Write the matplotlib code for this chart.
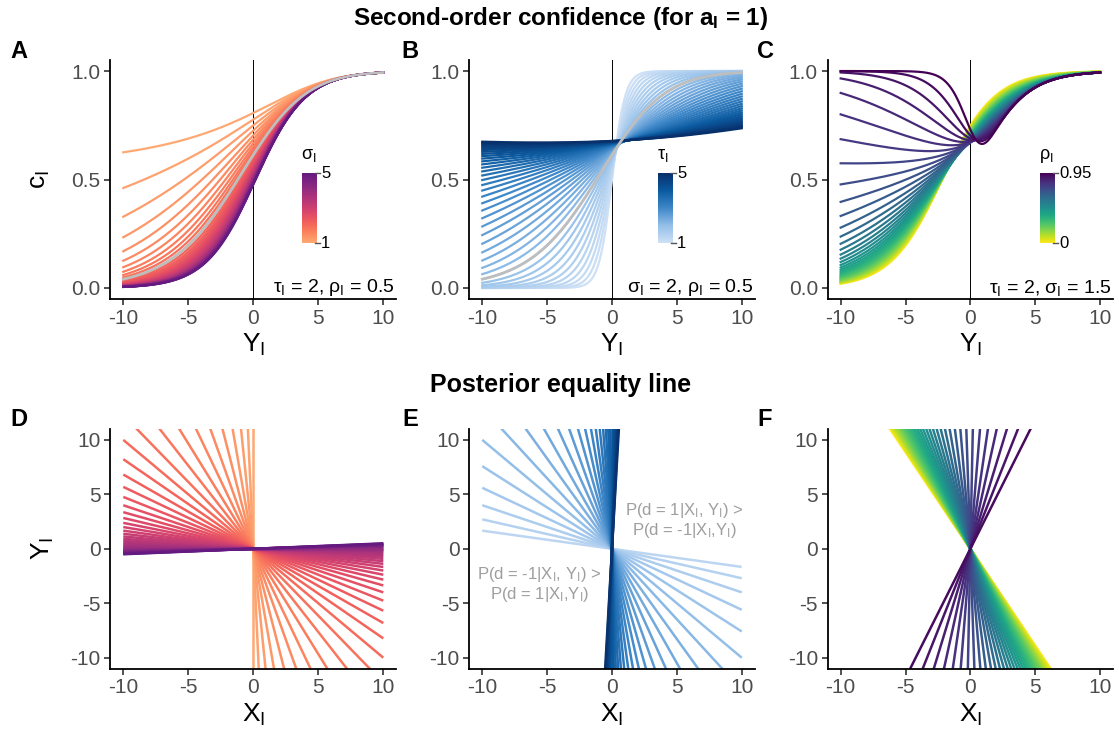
import math
import numpy as np
import matplotlib
matplotlib.use("Agg")
import matplotlib.pyplot as plt
from matplotlib.colors import LinearSegmentedColormap

plt.rcParams['font.family'] = ['Liberation Sans', 'DejaVu Sans']
plt.rcParams['mathtext.fontset'] = 'custom'
plt.rcParams['mathtext.rm'] = 'Liberation Sans'
plt.rcParams['mathtext.it'] = 'Liberation Sans'
plt.rcParams['mathtext.bf'] = 'Liberation Sans:bold'

sigma_vals = [1.0, 1.1, 1.2, 1.3, 1.4, 1.5, 1.6, 1.7, 1.8, 1.9, 2.0, 2.1, 2.2, 2.3,
              2.4, 2.5, 2.6, 2.7, 2.8, 2.9, 3.0, 3.1, 3.2, 3.3, 3.4, 3.5, 3.6, 3.7,
              3.8, 3.9, 4.0, 4.1, 4.2, 4.3, 4.4, 4.5, 4.6, 4.7, 4.8, 4.9, 5.0]
tau_vals = list(sigma_vals)
tau_vals_e = [1.333, 1.467, 1.6, 1.733, 1.867, 2.0, 2.133, 2.267, 2.4, 2.533, 2.667,
              2.8, 2.933, 3.067, 3.2, 3.333, 3.467, 3.6, 3.733, 3.867, 4.0, 4.133,
              4.267, 4.4, 4.533, 4.667, 4.8, 4.933]
rho_vals = [0.0, 0.027, 0.054, 0.081, 0.109, 0.136, 0.163, 0.19, 0.217, 0.244, 0.271,
            0.299, 0.326, 0.353, 0.38, 0.407, 0.434, 0.461, 0.489, 0.516, 0.543, 0.57,
            0.597, 0.624, 0.651, 0.679, 0.706, 0.733, 0.76, 0.787, 0.814, 0.841, 0.869,
            0.896, 0.923, 0.95]
rho_vals_f = rho_vals[:-1]

tau_a, rho_a = 2.0, 0.5
sigma_b, rho_b = 2.0, 0.5
tau_c, sigma_c = 2.0, 1.5
ref_sigma, ref_tau, ref_rho = 2.0, 2.0, 0.5

y_grid = np.linspace(-10, 10, 401)
x_ends = np.array([-10.0, 10.0])

W, H = 1119, 738
_erfc = np.vectorize(math.erfc)


def phi_cdf(z):
    return 0.5 * _erfc(-z / math.sqrt(2))


def confidence(y, sigma, tau, rho):
    k = rho * sigma / tau
    s = sigma * math.sqrt(1 - rho ** 2)
    pa = np.exp(-(y - 1) ** 2 / (2 * tau ** 2)) * phi_cdf((1 + k * (y - 1)) / s)
    pb = np.exp(-(y + 1) ** 2 / (2 * tau ** 2)) * phi_cdf((-1 + k * (y + 1)) / s)
    return pa / (pa + pb)


def equality_line(ax, sigma, tau, rho, color):
    a = tau ** 2 - rho * sigma * tau
    b = sigma ** 2 - rho * sigma * tau
    if abs(b) < 1e-9:
        ax.plot([0, 0], [-12, 12], color=color, lw=1.8, solid_capstyle='butt')
    else:
        ax.plot(x_ends, -a / b * x_ends, color=color, lw=1.8, solid_capstyle='butt')


def fig_rect(x0, y0, x1, y1):
    return [x0 / W, 1 - y1 / H, (x1 - x0) / W, (y1 - y0) / H]


def style_axes(ax):
    for s in ['top', 'right']:
        ax.spines[s].set_visible(False)
    for s in ['left', 'bottom']:
        ax.spines[s].set_linewidth(1.3)
    ax.tick_params(length=4, width=1.2, colors='#333333', labelcolor='#4d4d4d',
                   labelsize=15, pad=3)


def colorbar(fig, cmap, x0, y0, x1, y1, title, top, bottom):
    cax = fig.add_axes(fig_rect(x0, y0, x1, y1))
    grad = np.linspace(1, 0, 256).reshape(-1, 1)
    cax.imshow(grad, aspect='auto', cmap=cmap, vmin=0, vmax=1)
    cax.axis('off')
    fig.text((x0 - 1) / W, 1 - (y0 - 17) / H, title, fontsize=13, ha='left', va='center')
    fig.text((x1 + 4) / W, 1 - y0 / H, top, fontsize=12, ha='left', va='center')
    fig.text((x1 + 4) / W, 1 - y1 / H, bottom, fontsize=12, ha='left', va='center')
    for yy in (y0, y1):
        fig.add_artist(plt.Line2D([(x1 - 2) / W, (x1 + 3) / W], [1 - yy / H, 1 - yy / H],
                                  color='#555555', lw=1.0))


cmap_a = LinearSegmentedColormap.from_list('mag', plt.cm.magma(np.linspace(0.82, 0.3, 256)))
cmap_b = LinearSegmentedColormap.from_list('blu', ['#cfe1f6', '#94bfe9', '#3f88c9', '#0b5aa0', '#08306b'])
cmap_c = plt.cm.viridis_r

fig = plt.figure(figsize=(W / 100, H / 100), dpi=100)

cols = [(110.3, 396.3), (469.3, 754.7), (827.7, 1113.0)]
row1 = (60.2, 298.8)
row2 = (429.0, 668.6)
axs = [fig.add_axes(fig_rect(c[0], r[0], c[1], r[1])) for r in (row1, row2) for c in cols]

# ---- top row: confidence curves
ax = axs[0]
ax.axvline(0, color='black', lw=0.7, zorder=1)
for s in sigma_vals:
    ax.plot(y_grid, confidence(y_grid, s, tau_a, rho_a), color=cmap_a((s - 1) / 4), lw=1.6, zorder=2)
ax.plot(y_grid, confidence(y_grid, ref_sigma, ref_tau, ref_rho), color='#bebebe', lw=2, zorder=3)
ax.text(10.9, 0.0, r'$\tau_\mathrm{I}$ = 2, $\rho_\mathrm{I}$ = 0.5', ha='right', va='center', fontsize=14)

ax = axs[1]
ax.axvline(0, color='black', lw=0.7, zorder=1)
for t in tau_vals:
    ax.plot(y_grid, confidence(y_grid, sigma_b, t, rho_b), color=cmap_b((t - 1) / 4), lw=1.6, zorder=2)
ax.plot(y_grid, confidence(y_grid, ref_sigma, ref_tau, ref_rho), color='#bebebe', lw=2, zorder=3)
ax.text(10.9, 0.0, r'$\sigma_\mathrm{I}$ = 2, $\rho_\mathrm{I}$ = 0.5', ha='right', va='center', fontsize=14)

ax = axs[2]
ax.axvline(0, color='black', lw=0.7, zorder=1)
for r in rho_vals:
    ax.plot(y_grid, confidence(y_grid, sigma_c, tau_c, r), color=cmap_c(r / 0.95), lw=1.6, zorder=2)
ax.text(10.9, 0.0, r'$\tau_\mathrm{I}$ = 2, $\sigma_\mathrm{I}$ = 1.5', ha='right', va='center', fontsize=14)

for ax in axs[:3]:
    ax.set_xlim(-11, 11)
    ax.set_ylim(-0.05, 1.05)
    ax.set_xticks([-10, -5, 0, 5, 10])
    ax.set_xticklabels(['-10', '-5', '0', '5', '10'])
    ax.set_yticks([0, 0.5, 1.0])
    ax.set_yticklabels(['0.0', '0.5', '1.0'])
    ax.set_xlabel(r'Y$_\mathrm{I}$', fontsize=19, labelpad=3)
    style_axes(ax)
axs[0].set_ylabel(r'c$_\mathrm{I}$', fontsize=19, labelpad=14)

# ---- bottom row: posterior equality lines
for s in sigma_vals:
    equality_line(axs[3], s, tau_a, rho_a, cmap_a((s - 1) / 4))
for t in tau_vals_e:
    equality_line(axs[4], sigma_b, t, rho_b, cmap_b((t - 1) / 4))
for r in rho_vals_f:
    equality_line(axs[5], sigma_c, tau_c, r, cmap_c(r / 0.95))

axs[4].text(5.6, 2.6, 'P(d = 1|X$_\\mathrm{I}$, Y$_\\mathrm{I}$) >\nP(d = -1|X$_\\mathrm{I}$,Y$_\\mathrm{I}$)',
            ha='center', va='center', fontsize=12, color='#9e9e9e', linespacing=1.1)
axs[4].text(-5.6, -3.3, 'P(d = -1|X$_\\mathrm{I}$, Y$_\\mathrm{I}$) >\nP(d = 1|X$_\\mathrm{I}$,Y$_\\mathrm{I}$)',
            ha='center', va='center', fontsize=12, color='#9e9e9e', linespacing=1.1)

for ax in axs[3:]:
    ax.set_xlim(-11, 11)
    ax.set_ylim(-11, 11)
    ax.set_xticks([-10, -5, 0, 5, 10])
    ax.set_xticklabels(['-10', '-5', '0', '5', '10'])
    ax.set_yticks([-10, -5, 0, 5, 10])
    ax.set_yticklabels(['-10', '-5', '0', '5', '10'])
    ax.set_xlabel(r'X$_\mathrm{I}$', fontsize=19, labelpad=3)
    style_axes(ax)
axs[3].set_ylabel(r'Y$_\mathrm{I}$', fontsize=19, labelpad=10)

# ---- colour bars inside the top panels
colorbar(fig, cmap_a, 302, 173, 317, 243, r'$\sigma_\mathrm{I}$', '5', '1')
colorbar(fig, cmap_b, 658, 173, 673, 243, r'$\tau_\mathrm{I}$', '5', '1')
colorbar(fig, cmap_c, 1040, 173, 1055, 243, r'$\rho_\mathrm{I}$', '0.95', '0')

# ---- titles and panel letters
fig.text(561 / W, 1 - 18 / H, r'Second-order confidence (for $\mathbf{a_I}$ = 1)',
         ha='center', va='center', fontsize=17.5, fontweight='bold')
fig.text(561 / W, 1 - 385 / H, 'Posterior equality line',
         ha='center', va='center', fontsize=18, fontweight='bold')
for lab, px, py in [('A', 19, 51), ('B', 410, 51), ('C', 765, 51),
                    ('D', 19, 419), ('E', 410, 419), ('F', 765, 419)]:
    fig.text(px / W, 1 - py / H, lab, ha='center', va='center', fontsize=17, fontweight='bold')

fig.savefig('out.png', dpi=100)
